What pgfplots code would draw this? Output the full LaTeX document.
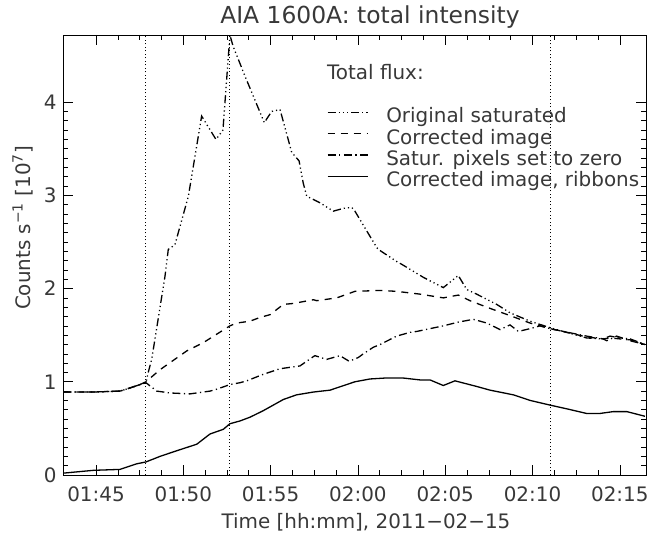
\documentclass[border=0pt]{standalone}
\usepackage{pgfplots}
\pgfplotsset{compat=1.18}
\usepackage{fontspec}
\setmainfont{DejaVu Sans}
\begin{document}
\begin{tikzpicture}
\useasboundingbox (0bp,0bp) rectangle (647bp,542bp);
\begin{axis}[
  at={(63bp,67bp)}, anchor=south west,
  scale only axis, width=583bp, height=440bp,
  xmin=103.11, xmax=136.5, ymin=0, ymax=4.72,
  xtick={105,110,115,120,125,130,135},
  xticklabels={01:45,01:50,01:55,02:00,02:05,02:10,02:15},
  minor x tick num=3,
  ytick={0,1,2,3,4}, minor y tick num=9,
  major tick length=10bp, minor tick length=5bp,
  tick align=inside,
  tick style={black, line width=0.6bp},
  axis line style={line width=0.8bp},
  ticklabel style={font=\fontsize{20}{20}\selectfont, text=black!78},
  /pgf/number format/assume math mode=true,
  xticklabel style={yshift=-8bp},
  yticklabel style={xshift=-3bp},
  every axis plot/.append style={line width=1.3bp, black, no markers, sharp plot},
  legend cell align=left,
  legend image code/.code={\draw[#1] (0bp,5bp) -- (40bp,5bp);},
  legend style={draw=none, fill=none, inner sep=0pt, outer sep=0pt,
    at={(rel axis cs:0.4528,0.832)}, anchor=north west,
    font=\fontsize{20}{20}\selectfont, text=black!78,
    row sep=4.3bp,
    nodes={inner sep=0pt, text height=14bp, text depth=3bp},
    /tikz/every odd column/.append style={column sep=18bp}},
]
\addplot[dash pattern=on 8bp off 3bp on 1.2bp off 3bp on 1.2bp off 3bp on 1.2bp off 3bp] coordinates {
(103.13,0.89)(104.85,0.89)(106.37,0.90)(106.56,0.91)(107.52,0.97)(107.86,0.99)(107.99,1.10)(108.19,1.24)(108.95,2.13)(109.14,2.42)(109.52,2.47)(110.29,2.99)(111.05,3.85)(111.87,3.60)(112.27,3.70)(112.67,4.72)(112.85,4.60)(113.53,4.28)(114.64,3.78)(115.06,3.90)(115.54,3.92)(116.21,3.46)(116.63,3.37)(116.87,3.13)(117.07,2.99)(117.83,2.92)(118.59,2.83)(119.16,2.86)(119.65,2.87)(119.83,2.83)(120.50,2.62)(121.08,2.44)(121.17,2.42)(122.22,2.29)(122.51,2.26)(123.75,2.12)(124.89,2.01)(125.75,2.14)(126.23,1.99)(126.80,1.94)(127.95,1.83)(128.71,1.74)(129.86,1.65)(131.00,1.58)(131.76,1.54)(133.10,1.47)(134.05,1.46)(134.44,1.49)(135.01,1.47)(135.59,1.46)(136.44,1.40)
};
\addlegendentry{Original saturated}
\addplot[dash pattern=on 7bp off 6bp] coordinates {
(103.13,0.89)(104.85,0.89)(106.37,0.90)(106.56,0.91)(107.52,0.97)(107.86,1.00)(108.67,1.13)(110.19,1.33)(111.15,1.42)(112.67,1.60)(113.06,1.63)(113.82,1.65)(114.39,1.69)(114.97,1.72)(115.73,1.83)(116.30,1.84)(117.45,1.88)(117.64,1.87)(118.79,1.90)(119.83,1.97)(121.27,1.98)(122.22,1.97)(123.56,1.94)(124.89,1.90)(125.75,1.93)(126.42,1.87)(127.38,1.80)(128.71,1.71)(129.86,1.63)(131.00,1.57)(131.76,1.54)(133.10,1.48)(134.05,1.46)(134.44,1.47)(135.01,1.46)(135.59,1.45)(136.44,1.40)
};
\addlegendentry{Corrected image}
\addplot[dash pattern=on 8bp off 3.5bp on 1.2bp off 3.5bp] coordinates {
(103.13,0.89)(104.85,0.89)(106.37,0.90)(106.56,0.91)(107.52,0.97)(107.86,0.99)(108.48,0.90)(109.24,0.88)(110.38,0.87)(111.53,0.90)(111.91,0.92)(112.67,0.97)(113.25,0.99)(113.63,1.01)(114.58,1.08)(115.54,1.14)(116.30,1.16)(116.68,1.17)(117.45,1.27)(117.54,1.28)(118.21,1.24)(118.97,1.28)(119.50,1.22)(120.02,1.26)(120.31,1.30)(120.88,1.37)(121.27,1.40)(122.22,1.49)(122.41,1.50)(122.98,1.53)(123.37,1.54)(124.13,1.57)(124.89,1.60)(125.75,1.64)(126.61,1.67)(127.38,1.63)(128.14,1.56)(128.71,1.61)(129.19,1.54)(129.86,1.57)(130.43,1.60)(131.00,1.57)(131.76,1.54)(133.10,1.49)(134.05,1.46)(134.25,1.44)(134.82,1.49)(135.59,1.44)(136.44,1.40)
};
\addlegendentry{Satur. pixels set to zero}
\addplot coordinates {
(103.13,0.02)(104.85,0.05)(106.37,0.06)(107.33,0.12)(107.86,0.14)(108.67,0.20)(109.62,0.26)(110.77,0.33)(111.53,0.44)(112.29,0.49)(112.67,0.55)(113.25,0.58)(113.82,0.62)(114.58,0.69)(115.73,0.81)(116.49,0.86)(117.45,0.89)(118.40,0.91)(119.83,1.00)(120.69,1.03)(121.55,1.04)(122.60,1.04)(123.56,1.02)(124.13,1.02)(124.89,0.96)(125.56,1.01)(126.80,0.95)(127.57,0.91)(128.90,0.86)(129.86,0.80)(131.00,0.75)(131.96,0.71)(133.10,0.66)(133.86,0.66)(134.63,0.68)(135.40,0.68)(136.44,0.63)
};
\addlegendentry{Corrected image, ribbons}
\addplot[forget plot, line width=0.9bp, dash pattern=on 1bp off 2.5bp] coordinates {(107.86,0) (107.86,4.72)};
\addplot[forget plot, line width=0.9bp, dash pattern=on 1bp off 2.5bp] coordinates {(112.67,0) (112.67,4.72)};
\addplot[forget plot, line width=0.9bp, dash pattern=on 1bp off 2.5bp] coordinates {(131.0,0) (131.0,4.72)};
\node[anchor=base west, inner sep=0pt, font=\fontsize{20}{20}\selectfont, text=black!78] at (rel axis cs:0.4528,0.898) {Total flux:};
\end{axis}
\node[anchor=base, inner sep=0pt, font=\fontsize{23.5}{23.5}\selectfont, text=black!78] at (370bp,518bp) {AIA 1600A: total intensity};
\node[anchor=base, inner sep=0pt, font=\fontsize{20}{20}\selectfont, text=black!78] at (366bp,14bp) {Time [hh:mm], 2011−02−15};
\node[anchor=base, rotate=90, inner sep=0pt, font=\fontsize{20}{20}\selectfont, text=black!78] at (30bp,314bp) {Counts s\textsuperscript{−1} [10\textsuperscript{7}]};
\end{tikzpicture}
\end{document}
